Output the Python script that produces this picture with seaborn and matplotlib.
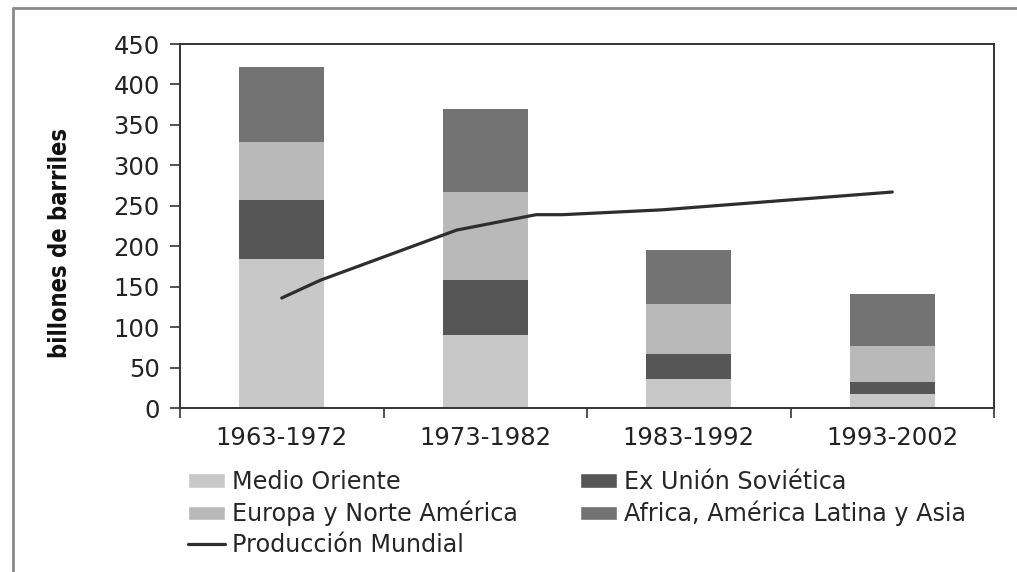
import matplotlib
matplotlib.use("Agg")
import matplotlib.pyplot as plt
from matplotlib import font_manager
from matplotlib.font_manager import FontProperties
from matplotlib.patches import Patch
from matplotlib.lines import Line2D
import seaborn as sns
import pandas as pd
import numpy as np
import os

# Reserves by decade and region (billones de barriles)
periodos = ["1963-1972", "1973-1982", "1983-1992", "1993-2002"]
medio_oriente = [184, 90, 36, 17]
ex_union_sovietica = [73, 68, 31, 15]
europa_norte_america = [72, 109, 62, 45]
africa_america_asia = [93, 103, 66, 64]

# World production curve (x in category units, y in billones de barriles)
produccion_x = [0.0, 0.19, 0.86, 1.25, 1.38, 1.87, 3.0]
produccion_y = [136, 158, 220, 239, 239, 245, 267]

y_ticks = [0, 50, 100, 150, 200, 250, 300, 350, 400, 450]

series = [
    ("Medio Oriente", medio_oriente, "#c8c8c8"),
    ("Ex Unión Soviética", ex_union_sovietica, "#565656"),
    ("Europa y Norte América", europa_norte_america, "#b9b9b9"),
    ("Africa, América Latina y Asia", africa_america_asia, "#737373"),
]

sns.set_theme(style="white")
plt.rcParams["font.family"] = ["DejaVu Sans"]


def condensed_bold():
    """Pick a narrow bold face for the axis title if one is installed."""
    prefs = ["LiberationSansNarrow-Bold", "DejaVuSansCondensed-Bold",
             "Condensed-Bold", "Narrow-Bold"]
    files = [f.fname for f in font_manager.fontManager.ttflist]
    for key in prefs:
        for fn in files:
            if key.lower() in os.path.basename(fn).lower():
                return FontProperties(fname=fn, size=17)
    for fn in font_manager.findSystemFonts():
        for key in prefs:
            if key.lower() in os.path.basename(fn).lower():
                return FontProperties(fname=fn, size=17)
    return FontProperties(family="DejaVu Sans", weight="bold", size=15)


fig = plt.figure(figsize=(10.17, 5.72), dpi=100, facecolor="white")
ax = fig.add_axes([180 / 1017, 1 - 408 / 572, 814 / 1017, 364 / 572])
ax.set_facecolor("white")

df = pd.DataFrame({"periodo": periodos})
bottom = np.zeros(len(periodos))
for name, vals, color in series:
    df[name] = vals
    sns.barplot(data=df, x="periodo", y=name, color=color, width=0.42,
                bottom=bottom, errorbar=None, linewidth=0, ax=ax,
                saturation=1)
    bottom = bottom + np.array(vals)

line_df = pd.DataFrame({"x": produccion_x, "y": produccion_y})
sns.lineplot(data=line_df, x="x", y="y", color="#2e2e2e", linewidth=2.3,
             ax=ax, sort=True)

ax.set_xlim(-0.5, 3.5)
ax.set_ylim(0, 450)
ax.set_yticks(y_ticks)
ax.set_yticklabels([str(v) for v in y_ticks])
ax.set_xticks(range(len(periodos)))
ax.set_xticklabels(periodos)
ax.set_xticks(np.arange(-0.5, len(periodos), 1.0), minor=True)
ax.set_xlabel("")
ax.set_ylabel("billones de barriles", fontproperties=condensed_bold(),
              color="#111111")
ax.yaxis.set_label_coords(-0.133, 0.453)

for side in ["left", "bottom", "top", "right"]:
    ax.spines[side].set_visible(True)
    ax.spines[side].set_color("#333333")
    ax.spines[side].set_linewidth(1.4)

ax.tick_params(axis="y", which="major", direction="out", length=7.5,
               width=1.2, color="#333333", pad=7, labelsize=17.5,
               labelcolor="#222222", left=True)
ax.tick_params(axis="x", which="major", length=0, pad=13, labelsize=17.5,
               labelcolor="#222222")
ax.tick_params(axis="x", which="minor", direction="out", length=7,
               width=1.2, color="#333333", bottom=True)

handles = [
    Patch(facecolor=series[0][2], label=series[0][0]),
    Patch(facecolor=series[2][2], label=series[2][0]),
    Line2D([0], [0], color="#2e2e2e", lw=2.3, label="Producción Mundial"),
    Patch(facecolor=series[1][2], label=series[1][0]),
    Patch(facecolor=series[3][2], label=series[3][0]),
]
fig.legend(handles=handles, ncol=2, loc="upper left",
           bbox_to_anchor=(188 / 1017, 1 - 470 / 572), frameon=False,
           fontsize=17.2, handlelength=1.55, handleheight=0.55,
           handletextpad=0.3, columnspacing=2.6, labelspacing=0.28,
           borderaxespad=0, borderpad=0)

# Outer frame of the figure (left and top edges)
frame_kw = dict(color="#8a8a8a", lw=2, transform=fig.transFigure, clip_on=False)
fig.add_artist(Line2D([13 / 1017, 13 / 1017], [0, 1 - 8 / 572], **frame_kw))
fig.add_artist(Line2D([13 / 1017, 1], [1 - 8 / 572, 1 - 8 / 572], **frame_kw))

fig.savefig("out.png", dpi=100, facecolor="white")
